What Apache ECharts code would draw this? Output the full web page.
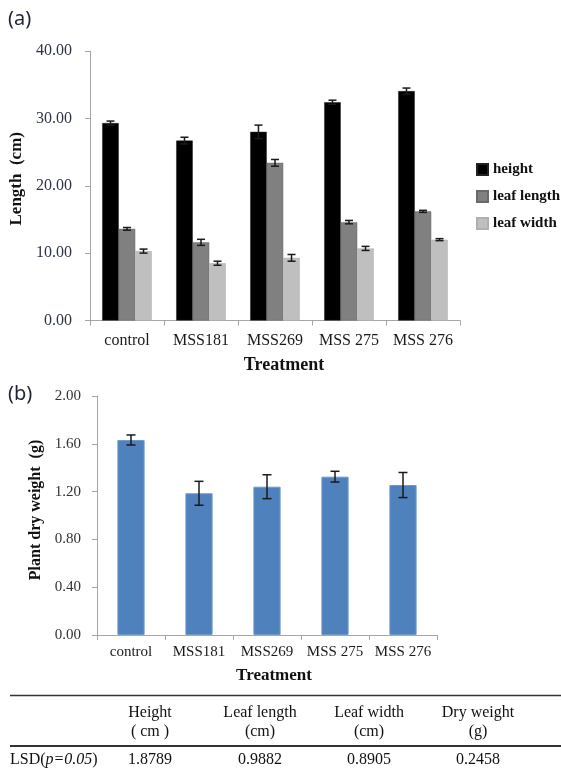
<!DOCTYPE html>
<html>
<head>
<meta charset="utf-8">
<script src="https://cdn.jsdelivr.net/npm/echarts@6/dist/echarts.min.js"></script>
<style>
html,body{margin:0;padding:0;background:#fff;}
#chart{width:561px;height:781px;}
</style>
</head>
<body>
<div id="chart"></div>
<script>
var categories = ['control', 'MSS181', 'MSS269', 'MSS 275', 'MSS 276'];
var heightVals = [29.3, 26.7, 28.0, 32.4, 34.05];
var heightErr = [0.3, 0.5, 1.0, 0.3, 0.45];
var leafLenVals = [13.6, 11.6, 23.4, 14.6, 16.2];
var leafLenErr = [0.2, 0.45, 0.5, 0.25, 0.15];
var leafWidVals = [10.3, 8.5, 9.3, 10.7, 12.0];
var leafWidErr = [0.3, 0.3, 0.5, 0.3, 0.15];
var dryVals = [1.632, 1.186, 1.241, 1.325, 1.255];
var dryErr = [0.042, 0.1, 0.1, 0.045, 0.105];
var lengthTicks = ['0.00', '10.00', '20.00', '30.00', '40.00'];
var dryTicks = ['0.00', '0.40', '0.80', '1.20', '1.60', '2.00'];
var lsdLabelParts = ['LSD(', 'p=0.05', ')'];
var lsdHeaders = ['Height', 'Leaf length', 'Leaf width', 'Dry weight'];
var lsdUnits = ['( cm )', '(cm)', '(cm)', '(g)'];
var lsdValues = ['1.8789', '0.9882', '0.8905', '0.2458'];

var serif = '"Liberation Serif", "DejaVu Serif", serif';
var chart = echarts.init(document.getElementById('chart'));

var barCatGap = 0.33;
function errRender(idx, nBars, errs, vals, capW) {
  return function (params, api) {
    var i = api.value(0);
    var v = vals[i], e = errs[i];
    var band = api.size([1, 0])[0];
    var bw = band * (1 - barCatGap) / nBars;
    var c = api.coord([i, v]);
    var x = c[0] + (idx - (nBars - 1) / 2) * bw;
    var yt = api.coord([i, v + e])[1];
    var yb = api.coord([i, v - e])[1];
    var st = { stroke: '#1a1a1a', lineWidth: 1.5 };
    return {
      type: 'group',
      children: [
        { type: 'line', shape: { x1: x, y1: yt, x2: x, y2: yb }, style: st },
        { type: 'line', shape: { x1: x - capW / 2, y1: yt, x2: x + capW / 2, y2: yt }, style: st },
        { type: 'line', shape: { x1: x - capW / 2, y1: yb, x2: x + capW / 2, y2: yb }, style: st }
      ]
    };
  };
}
function idxData() { return categories.map(function (c, i) { return [i]; }); }

var axisLineStyle = { color: '#a6a6a6', width: 1 };

var lsdX = [150, 260, 369, 478];
var graphics = [
  { type: 'text', left: 8, top: 9, style: { text: '(a)', font: '20px "Noto Sans", sans-serif', fill: '#1e2436' } },
  { type: 'text', left: 8, top: 384, style: { text: '(b)', font: '20px "Noto Sans", sans-serif', fill: '#1e2436' } },
  { type: 'line', shape: { x1: 10, y1: 695.5, x2: 561, y2: 695.5 }, style: { stroke: '#333', lineWidth: 1.5 } },
  { type: 'line', shape: { x1: 10, y1: 746, x2: 561, y2: 746 }, style: { stroke: '#333', lineWidth: 2 } },
  { type: 'text', x: 10, y: 760, style: {
      text: lsdLabelParts[0] + '{i|' + lsdLabelParts[1] + '}' + lsdLabelParts[2],
      font: '16px ' + serif, fill: '#111', textAlign: 'left', textVerticalAlign: 'middle',
      rich: { i: { fontStyle: 'italic', fontFamily: serif, fontSize: 16, fill: '#111' } } } }
];
lsdHeaders.forEach(function (h, i) {
  graphics.push({ type: 'text', x: lsdX[i], y: 713, style: { text: h, font: '16px ' + serif, fill: '#111', textAlign: 'center', textVerticalAlign: 'middle' } });
  graphics.push({ type: 'text', x: lsdX[i], y: 732, style: { text: lsdUnits[i], font: '16px ' + serif, fill: '#111', textAlign: 'center', textVerticalAlign: 'middle' } });
  graphics.push({ type: 'text', x: lsdX[i], y: 760, style: { text: lsdValues[i], font: '16px ' + serif, fill: '#111', textAlign: 'center', textVerticalAlign: 'middle' } });
});

var option = {
  backgroundColor: '#fff',
  animation: false,
  grid: [
    { left: 90, right: 101, top: 51, bottom: 460.5 },
    { left: 97, right: 124, top: 396, bottom: 146 }
  ],
  legend: {
    data: ['height', 'leaf length', 'leaf width'],
    orient: 'vertical',
    left: 471,
    top: 157,
    itemWidth: 11,
    itemHeight: 11,
    itemGap: 12,
    icon: 'rect',
    textStyle: { fontFamily: serif, fontWeight: 'bold', fontSize: 15, color: '#111' }
  },
  xAxis: [
    {
      gridIndex: 0, type: 'category', data: categories,
      axisLine: { lineStyle: axisLineStyle },
      axisTick: { show: true, length: 5, lineStyle: axisLineStyle },
      axisLabel: { interval: 0, fontFamily: serif, fontSize: 16, color: '#1a1a1a', margin: 12 },
      name: 'Treatment', nameLocation: 'middle', nameGap: 36,
      nameTextStyle: { fontFamily: serif, fontWeight: 'bold', fontSize: 18, color: '#111', padding: [0, 0, 0, 18] }
    },
    {
      gridIndex: 1, type: 'category', data: categories,
      axisLine: { lineStyle: axisLineStyle },
      axisTick: { show: true, length: 5, lineStyle: axisLineStyle },
      axisLabel: { interval: 0, fontFamily: serif, fontSize: 15, color: '#1a1a1a', margin: 10 },
      name: 'Treatment', nameLocation: 'middle', nameGap: 32,
      nameTextStyle: { fontFamily: serif, fontWeight: 'bold', fontSize: 17, color: '#111', padding: [0, 0, 0, 14] }
    }
  ],
  yAxis: [
    {
      gridIndex: 0, type: 'value', min: 0, max: 40, interval: 10,
      axisLine: { show: true, lineStyle: axisLineStyle },
      axisTick: { show: true, length: 5, lineStyle: axisLineStyle },
      splitLine: { show: false },
      axisLabel: { fontFamily: serif, fontSize: 16, color: '#2f3545', margin: 18,
        formatter: function (v) { return lengthTicks[Math.round(v / 10)]; } },
      name: 'Length  (cm)', nameLocation: 'middle', nameGap: 65,
      nameTextStyle: { fontFamily: serif, fontWeight: 'bold', fontSize: 17, color: '#111', padding: [0, 0, 0, 14] }
    },
    {
      gridIndex: 1, type: 'value', min: 0, max: 2, interval: 0.4,
      axisLine: { show: true, lineStyle: axisLineStyle },
      axisTick: { show: true, length: 5, lineStyle: axisLineStyle },
      splitLine: { show: false },
      axisLabel: { fontFamily: serif, fontSize: 15, color: '#333', margin: 16,
        formatter: function (v) { return dryTicks[Math.round(v / 0.4)]; } },
      name: 'Plant dry weight  (g)', nameLocation: 'middle', nameGap: 48,
      nameTextStyle: { fontFamily: serif, fontWeight: 'bold', fontSize: 16, color: '#111', padding: [0, 0, 0, 11] }
    }
  ],
  series: [
    { name: 'height', type: 'bar', xAxisIndex: 0, yAxisIndex: 0, data: heightVals,
      barGap: '0%', barCategoryGap: '33%',
      itemStyle: { color: '#000000', borderColor: '#222', borderWidth: 0.5 } },
    { name: 'leaf length', type: 'bar', xAxisIndex: 0, yAxisIndex: 0, data: leafLenVals,
      barGap: '0%', barCategoryGap: '33%',
      itemStyle: { color: '#808080', borderColor: '#6a6a6a', borderWidth: 0.5 } },
    { name: 'leaf width', type: 'bar', xAxisIndex: 0, yAxisIndex: 0, data: leafWidVals,
      barGap: '0%', barCategoryGap: '33%',
      itemStyle: { color: '#bfbfbf', borderColor: '#b0b0b0', borderWidth: 0.5 } },
    { type: 'custom', xAxisIndex: 0, yAxisIndex: 0, data: idxData(), z: 5,
      renderItem: errRender(0, 3, heightErr, heightVals, 8) },
    { type: 'custom', xAxisIndex: 0, yAxisIndex: 0, data: idxData(), z: 5,
      renderItem: errRender(1, 3, leafLenErr, leafLenVals, 8) },
    { type: 'custom', xAxisIndex: 0, yAxisIndex: 0, data: idxData(), z: 5,
      renderItem: errRender(2, 3, leafWidErr, leafWidVals, 8) },
    { name: 'dry weight', type: 'bar', xAxisIndex: 1, yAxisIndex: 1, data: dryVals,
      barCategoryGap: '60%',
      itemStyle: { color: '#4f81bd', borderColor: '#6f98cc', borderWidth: 1 } },
    { type: 'custom', xAxisIndex: 1, yAxisIndex: 1, data: idxData(), z: 5,
      renderItem: function (params, api) {
        var i = api.value(0);
        var v = dryVals[i], e = dryErr[i];
        var x = api.coord([i, v])[0];
        var yt = api.coord([i, v + e])[1];
        var yb = api.coord([i, v - e])[1];
        var st = { stroke: '#1a1a1a', lineWidth: 1.5 };
        return { type: 'group', children: [
          { type: 'line', shape: { x1: x, y1: yt, x2: x, y2: yb }, style: st },
          { type: 'line', shape: { x1: x - 4.5, y1: yt, x2: x + 4.5, y2: yt }, style: st },
          { type: 'line', shape: { x1: x - 4.5, y1: yb, x2: x + 4.5, y2: yb }, style: st }
        ] };
      } }
  ],
  graphic: graphics
};
chart.setOption(option);
</script>
</body>
</html>
